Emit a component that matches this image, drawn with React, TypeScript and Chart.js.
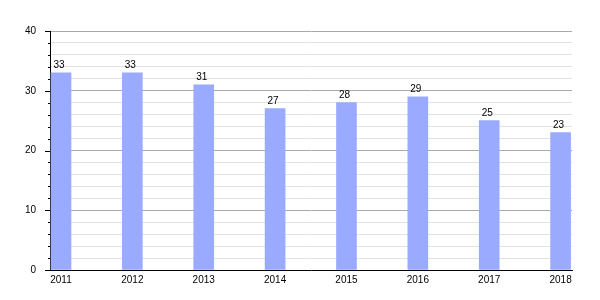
import React, { useEffect, useRef } from "react";
import { Chart, registerables } from "chart.js";

Chart.register(...registerables);

const years = [2011, 2012, 2013, 2014, 2015, 2016, 2017, 2018];
const values = [33, 33, 31, 27, 28, 29, 25, 23];
const yTickLabels = [0, 10, 20, 30, 40];

const FONT = "'Liberation Sans', Arial, sans-serif";

const tickMarks = {
  id: "tickMarks",
  afterDraw(chart: any) {
    const ctx = chart.ctx;
    const y = chart.scales.y;
    const left = chart.chartArea.left;
    ctx.save();
    ctx.strokeStyle = "#000";
    ctx.lineWidth = 1;
    y.ticks.forEach((t: any) => {
      const py = Math.round(y.getPixelForValue(t.value)) + 0.5;
      const len = yTickLabels.includes(t.value) ? 5 : 2;
      ctx.beginPath();
      ctx.moveTo(left - len, py);
      ctx.lineTo(left, py);
      ctx.stroke();
    });
    ctx.restore();
  },
};

const valueLabels = {
  id: "valueLabels",
  afterDatasetsDraw(chart: any) {
    const ctx = chart.ctx;
    const meta = chart.getDatasetMeta(0);
    ctx.save();
    ctx.fillStyle = "#000";
    ctx.font = `10px ${FONT}`;
    ctx.textAlign = "center";
    ctx.textBaseline = "alphabetic";
    meta.data.forEach((el: any, i: number) => {
      ctx.fillText(String(values[i]), el.x - 2, el.y - 5);
    });
    ctx.restore();
  },
};

export default function App() {
  const ref = useRef<HTMLCanvasElement | null>(null);
  useEffect(() => {
    document.body.style.margin = "0";
    const chart = new Chart(ref.current!, {
      type: "bar",
      data: {
        datasets: [
          {
            data: years.map((yr, i) => ({ x: yr, y: values[i] })),
            backgroundColor: "#9aabff",
            barThickness: 20,
          },
        ],
      },
      options: {
        animation: false,
        responsive: false,
        layout: { padding: { top: 31, right: 28, left: 0, bottom: 0 } },
        plugins: { legend: { display: false }, tooltip: { enabled: false } },
        scales: {
          x: {
            type: "linear",
            offset: false,
            min: 2010.846,
            max: 2018.16,
            afterBuildTicks: (s: any) => {
              s.ticks = years.map((v) => ({ value: v }));
            },
            afterFit: (s: any) => {
              s.height = 30;
            },
            ticks: {
              autoSkip: false,
              maxRotation: 0,
              padding: 4,
              color: "#000",
              font: { family: FONT, size: 10 },
              callback: (v: any) => String(v),
            },
            grid: { display: false, drawTicks: false, offset: false },
            border: { display: true, color: "#000", width: 1 },
          },
          y: {
            min: 0,
            max: 40,
            afterFit: (s: any) => {
              s.width = 50;
            },
            ticks: {
              stepSize: 2,
              autoSkip: false,
              padding: 14,
              color: "#000",
              font: { family: FONT, size: 10 },
              callback: (v: any) => (yTickLabels.includes(v) ? String(v) : ""),
            },
            grid: {
              drawTicks: false,
              color: (c: any) =>
                c.tick && yTickLabels.includes(c.tick.value) ? "#aaaaaa" : "#e2e2e2",
            },
            border: { display: true, color: "#000", width: 1 },
          },
        },
      },
      plugins: [tickMarks, valueLabels],
    });
    return () => chart.destroy();
  }, []);
  return (
    <div style={{ width: 600, height: 300 }}>
      <canvas ref={ref} width={600} height={300} />
    </div>
  );
}
